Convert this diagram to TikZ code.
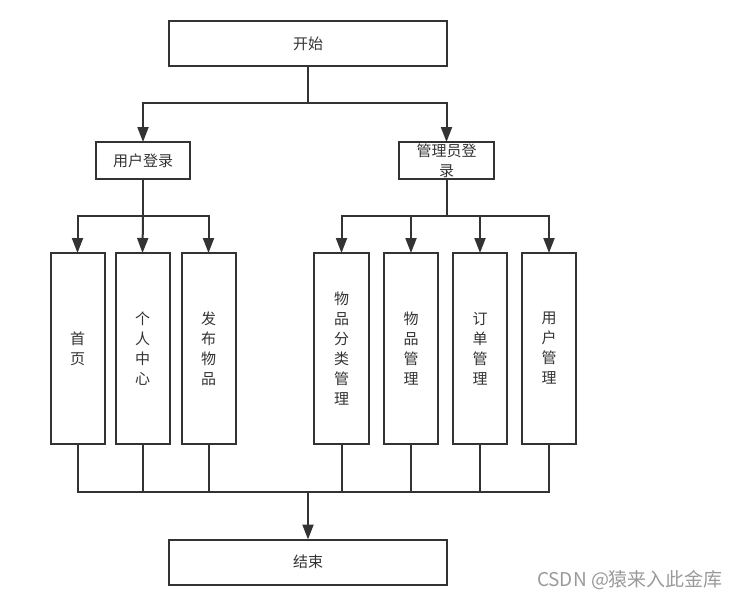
\documentclass[tikz,border=0pt]{standalone}
\usepackage{fontspec}
\setmainfont{Noto Sans CJK SC}
\usetikzlibrary{arrows.meta}
\definecolor{ln}{HTML}{333333}
\definecolor{tx}{HTML}{333333}
\definecolor{wm}{HTML}{9A9A9A}
\begin{document}
\begin{tikzpicture}[x=1pt,y=-1pt,
  box/.style={draw=ln,line width=2pt,inner sep=0pt,outer sep=0pt,
    text=tx,font=\fontsize{15}{20}\selectfont,align=center},
  wide/.style={box,minimum width=278pt,minimum height=45pt},
  login/.style={box,minimum width=94pt,minimum height=37pt},
  col/.style={box,minimum width=54pt,minimum height=191pt},
  conn/.style={draw=ln,line width=2pt},
  arr/.style={conn,-{Triangle[length=15pt,width=11pt]}}]
\useasboundingbox (0,0) rectangle (738,600);
\node[wide] (start) at (308,43.5) {开始};
\node[login] (user) at (143,160.5) {用户登录};
\node[login,minimum width=95pt] (admin) at (446.5,160.5) {管理员登\\录};
\node[col] (b1) at (77.5,348.5) {首\\页};
\node[col] (b2) at (142.5,348.5) {个\\人\\中\\心};
\node[col] (b3) at (208.5,348.5) {发\\布\\物\\品};
\node[col,minimum width=55pt] (r1) at (341.5,348.5) {物\\品\\分\\类\\管\\理};
\node[col] (r2) at (411,348.5) {物\\品\\管\\理};
\node[col] (r3) at (480,348.5) {订\\单\\管\\理};
\node[col] (r4) at (549,348.5) {用\\户\\管\\理};
\node[wide] (end) at (308,562) {结束};
\node[text=wm,font=\fontsize{19}{22}\selectfont,anchor=center] (wmk) at (630,580) {CSDN @猿来入此金库};
\coordinate (j1) at (308,103);
\coordinate (jl) at (143,216);
\coordinate (jr) at (446.5,216);
\coordinate (jb) at (308,492);
\draw[conn] (start.south) -- (j1);
\draw[arr] (j1) -| (user.north);
\draw[arr] (j1) -| (admin.north);
\draw[conn] (user.south) -- (jl);
\draw[arr] (jl) -| (b1.north);
\draw[arr] (jl) -- (b2.north);
\draw[arr] (jl) -| (b3.north);
\draw[conn] (admin.south) -- (jr);
\draw[arr] (jr) -| (r1.north);
\draw[arr] (jr) -| (r2.north);
\draw[arr] (jr) -| (r3.north);
\draw[arr] (jr) -| (r4.north);
\foreach \b in {b1,b2,b3,r1,r2,r3,r4} \draw[conn] (\b.south) |- (jb);
\draw[arr] (jb) -- (end.north);
\end{tikzpicture}
\end{document}
